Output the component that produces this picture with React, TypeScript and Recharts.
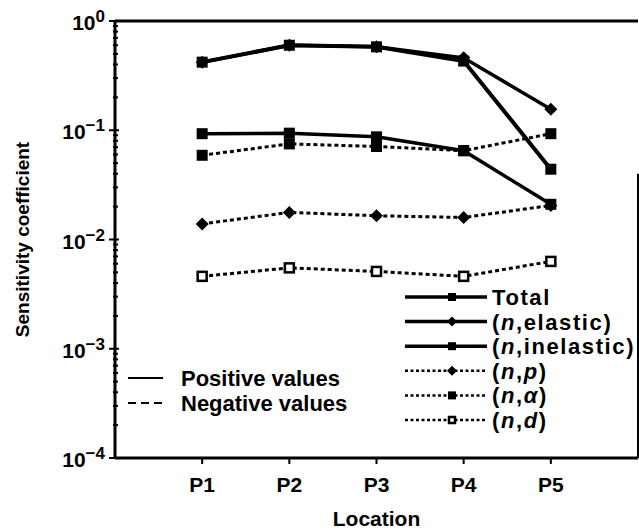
import { LineChart, Line, XAxis, YAxis, ReferenceLine } from 'recharts'

document.body.style.margin = '0'

const locations = ['P1', 'P2', 'P3', 'P4', 'P5']
const total = [0.42, 0.6, 0.58, 0.43, 0.044]
const elastic = [0.42, 0.6, 0.58, 0.46, 0.156]
const inelastic = [0.093, 0.094, 0.087, 0.065, 0.021]
const nP = [0.0139, 0.0177, 0.0165, 0.0159, 0.0205]
const nAlpha = [0.059, 0.075, 0.071, 0.065, 0.093]
const nD = [0.0046, 0.0055, 0.0051, 0.0046, 0.0063]
const decades = [1e-4, 1e-3, 1e-2, 1e-1, 1]
const decadeExp = ['−4', '−3', '−2', '−1', '0']

const FONT = '"Liberation Sans", Arial, Helvetica, sans-serif'

const chartData = locations.map((loc, i) => ({
  x: i + 1,
  loc,
  total: total[i],
  elastic: elastic[i],
  inelastic: inelastic[i],
  nP: nP[i],
  nAlpha: nAlpha[i],
  nD: nD[i],
}))

// minor log ticks 1..9 per decade
const yTicks: number[] = []
decades.slice(0, 4).forEach((d) => {
  for (let m = 1; m < 10; m++) yTicks.push(d * m)
})
yTicks.push(1)

type Shape = 'square' | 'diamond' | 'open'
type Series = { key: string; name: string; reaction: string; dotted: boolean; shape: Shape; width: number }

const series: Series[] = [
  { key: 'nD', name: '(n,d)', reaction: 'd', dotted: true, shape: 'open', width: 3 },
  { key: 'nAlpha', name: '(n,α)', reaction: 'α', dotted: true, shape: 'square', width: 3 },
  { key: 'nP', name: '(n,p)', reaction: 'p', dotted: true, shape: 'diamond', width: 3 },
  { key: 'inelastic', name: '(n,inelastic)', reaction: 'inelastic', dotted: false, shape: 'square', width: 3.5 },
  { key: 'elastic', name: '(n,elastic)', reaction: 'elastic', dotted: false, shape: 'diamond', width: 3.5 },
  { key: 'total', name: 'Total', reaction: '', dotted: false, shape: 'square', width: 4 },
]

function Marker({ cx, cy, shape, size }: { cx: number; cy: number; shape: Shape; size: number }) {
  const h = size / 2
  if (shape === 'diamond') {
    const d = h + 1
    return <polygon points={`${cx},${cy - d} ${cx + d},${cy} ${cx},${cy + d} ${cx - d},${cy}`} fill='#000' />
  }
  if (shape === 'open') {
    return <rect x={cx - h + 1} y={cy - h + 1} width={size - 2} height={size - 2} fill='#fff' stroke='#000' strokeWidth={2.5} />
  }
  return <rect x={cx - h} y={cy - h} width={size} height={size} fill='#000' />
}

function YTick(props: any) {
  const { x, y, payload } = props
  const v = payload.value
  const idx = decades.findIndex((d) => Math.abs(Math.log10(d) - Math.log10(v)) < 1e-6)
  if (idx < 0) {
    return <line x1={x - 2} x2={x + 3} y1={y} y2={y} stroke='#000' strokeWidth={2} />
  }
  return (
    <g>
      <line x1={x - 6} x2={x + 4} y1={y} y2={y} stroke='#000' strokeWidth={2} />
      <text x={x - 10} y={y + 9} textAnchor='end' fontFamily={FONT} fontWeight='bold' fontSize={21} fill='#000'>
        <tspan>10</tspan>
        <tspan dy={-8} fontSize={17}>
          {decadeExp[idx]}
        </tspan>
      </text>
    </g>
  )
}

function ReactionLabel({ x, y, s }: { x: number; y: number; s: Series }) {
  const style = { fontFamily: FONT, fontWeight: 'bold' as const, fontSize: 22, letterSpacing: 1.6 }
  if (!s.reaction) {
    return (
      <text x={x} y={y + 8} {...style}>
        {s.name}
      </text>
    )
  }
  const italicReaction = s.reaction === 'p' || s.reaction === 'd' || s.reaction === 'α'
  return (
    <text x={x} y={y + 8} {...style}>
      (<tspan fontStyle='italic'>n</tspan>,
      <tspan fontStyle={italicReaction ? 'italic' : 'normal'}>{s.reaction}</tspan>)
    </text>
  )
}

function Legends() {
  const order = ['total', 'elastic', 'inelastic', 'nP', 'nAlpha', 'nD']
  const rows = order.map((k) => series.find((s) => s.key === k)!)
  return (
    <svg width={639} height={531} style={{ position: 'absolute', left: 0, top: 0, pointerEvents: 'none' }}>
      {rows.map((s, i) => {
        const y = 297 + i * 24.6
        return (
          <g key={s.key}>
            <line
              x1={405}
              x2={487}
              y1={y}
              y2={y}
              stroke='#000'
              strokeWidth={s.dotted ? 2.5 : 3.5}
              strokeDasharray={s.dotted ? '3 2.5' : undefined}
            />
            <Marker cx={452} cy={y} shape={s.shape} size={8} />
            <ReactionLabel x={492} y={y} s={s} />
          </g>
        )
      })}
      <line x1={128} x2={163} y1={378} y2={378} stroke='#000' strokeWidth={2} />
      <line x1={128} x2={163} y1={403} y2={403} stroke='#000' strokeWidth={2} strokeDasharray='8 5' />
      <text x={181} y={386} fontFamily={FONT} fontWeight='bold' fontSize={22}>
        Positive values
      </text>
      <text x={181} y={411} fontFamily={FONT} fontWeight='bold' fontSize={22}>
        Negative values
      </text>
    </svg>
  )
}

export default function App() {
  return (
    <div style={{ position: 'relative', width: 639, height: 531, background: '#fff' }}>
      <LineChart width={639} height={531} data={chartData} margin={{ top: 21, right: 1, left: 0, bottom: 0 }}>
        <XAxis
          dataKey='x'
          type='number'
          domain={[0, 6]}
          ticks={[1, 2, 3, 4, 5]}
          tickFormatter={(v: number) => locations[v - 1]}
          height={73}
          stroke='#000'
          axisLine={{ strokeWidth: 3 }}
          tickLine={{ strokeWidth: 2 }}
          tickSize={6}
          tickMargin={13}
          tick={{ fill: '#000', fontFamily: FONT, fontWeight: 'bold', fontSize: 21 }}
          label={{
            value: 'Location',
            position: 'insideBottom',
            offset: 5,
            fill: '#000',
            fontFamily: FONT,
            fontWeight: 'bold',
            fontSize: 21,
          }}
        />
        <YAxis
          type='number'
          scale='log'
          domain={[1e-4, 1]}
          allowDataOverflow
          ticks={yTicks}
          interval={0}
          width={115}
          stroke='#000'
          axisLine={{ strokeWidth: 3 }}
          tickSize={0}
          tickMargin={0}
          tick={<YTick />}
          label={{
            value: 'Sensitivity coefficient',
            angle: -90,
            position: 'insideLeft',
            offset: 22,
            style: { textAnchor: 'middle' },
            fill: '#000',
            fontFamily: FONT,
            fontWeight: 'bold',
            fontSize: 19,
          }}
        />
        <ReferenceLine y={1} stroke='#000' strokeWidth={3} />
        <ReferenceLine
          segment={[
            { x: 6, y: 0.04 },
            { x: 6, y: 1e-4 },
          ]}
          stroke='#000'
          strokeWidth={2}
        />
        {series.map((s) => (
          <Line
            key={s.key}
            dataKey={s.key}
            name={s.name}
            type='linear'
            stroke='#000'
            strokeWidth={s.width}
            strokeDasharray={s.dotted ? '4 3' : undefined}
            isAnimationActive={false}
            dot={(p: any) => <Marker key={`${s.key}-${p.index}`} cx={p.cx} cy={p.cy} shape={s.shape} size={11} />}
            activeDot={false}
          />
        ))}
      </LineChart>
      <Legends />
    </div>
  )
}
